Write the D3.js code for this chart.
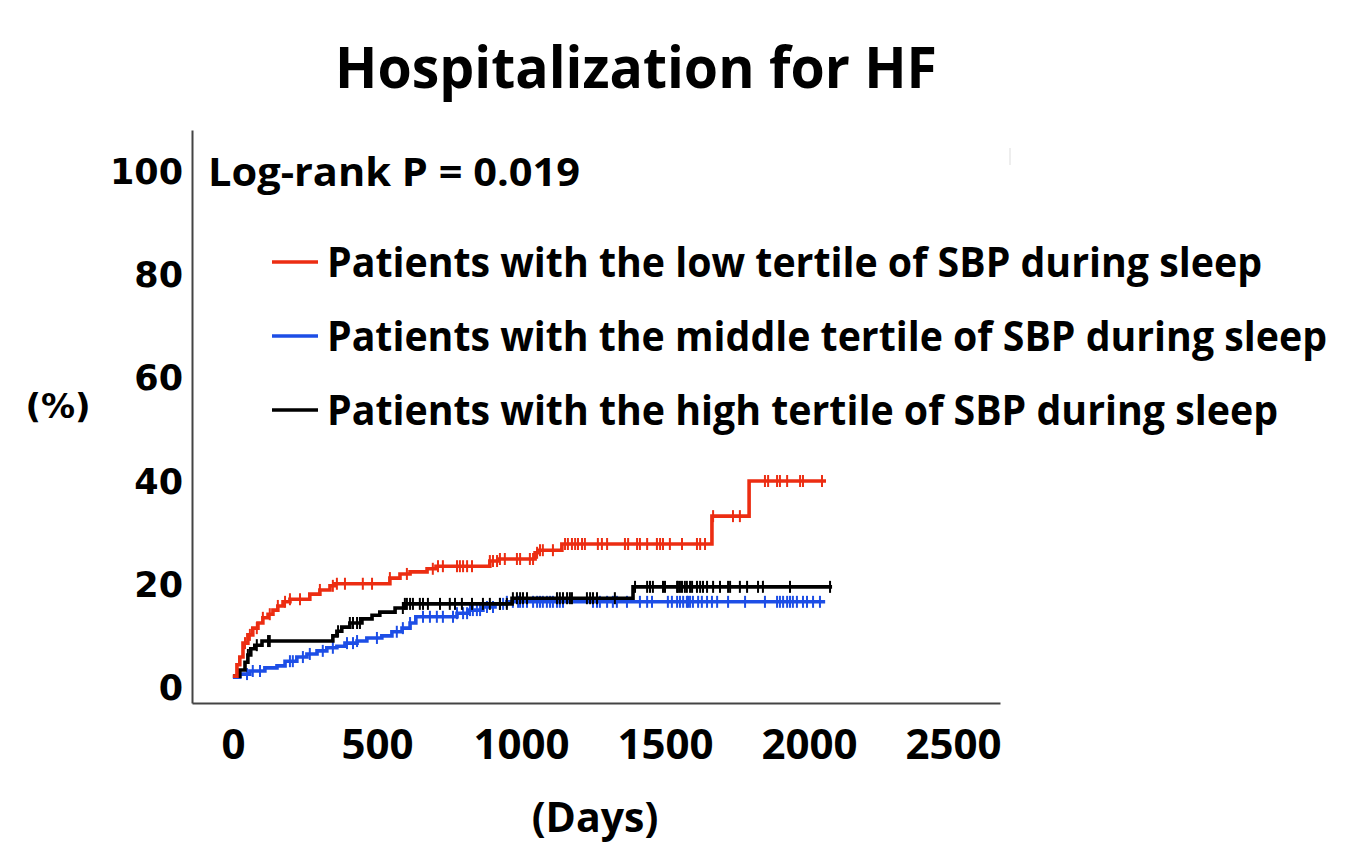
<!DOCTYPE html>
<html>
<head>
<meta charset="utf-8">
<script src="https://cdn.jsdelivr.net/npm/d3@7"></script>
<style>
  body { margin: 0; background: #fff; }
  svg { display: block; }
</style>
</head>
<body>
<svg id="chart" width="1369" height="864"></svg>
<script>
// ---------- DATA ----------
const titleText = "Hospitalization for HF";
const pText = "Log-rank P = 0.019";
const legendLabels = [
  "Patients with the low tertile of SBP during sleep",
  "Patients with the middle tertile of SBP during sleep",
  "Patients with the high tertile of SBP during sleep"
];
const seriesColors = ["#ec2d12", "#1d4ee6", "#000000"];
const xTicks = [0, 500, 1000, 1500, 2000, 2500];
const yTicks = [0, 20, 40, 60, 80, 100];

// Low tertile (red): step times (days) and cumulative incidence (%)
const lowDays = [0, 14, 24, 35, 52, 69, 87, 104, 122, 139, 156, 174, 198, 267, 302, 337, 354, 545, 580, 615, 674, 705, 892, 920, 1049, 1059, 1142, 1663, 1792];
const lowPct  = [2.3, 4.5, 6.0, 8.7, 10.3, 11.6, 12.6, 13.6, 14.3, 15.1, 15.9, 16.7, 17.2, 18.2, 19.0, 19.8, 20.2, 21.3, 22.1, 22.5, 23.1, 23.6, 24.6, 25.0, 26.2, 26.7, 27.9, 33.3, 40.1];
const lowEnd = 2059;
const lowCensor = [42,59,83,104,128,156,181,198,233,302,347,361,389,451,483,545,604,694,712,729,778,788,799,813,830,892,903,917,927,944,986,997,1031,1042,1056,1066,1076,1111,1153,1163,1177,1188,1198,1212,1222,1267,1281,1299,1361,1372,1403,1413,1438,1472,1483,1493,1517,1559,1611,1622,1639,1667,1736,1760,1847,1858,1889,1899,1924,1969,1979,2045];

// Middle tertile (blue)
const midDays = [0, 24, 59, 111, 153, 181, 222, 257, 292, 326, 361, 389, 431, 465, 517, 552, 587, 615, 635, 778, 816, 868, 910, 951];
const midPct  = [2.1, 2.7, 3.3, 3.9, 4.3, 5.2, 6.0, 6.6, 7.2, 7.8, 8.1, 8.7, 9.1, 9.7, 10.1, 10.9, 11.6, 12.6, 13.8, 14.5, 15.1, 15.7, 16.3, 16.7];
const midEnd = 2056;
const midCensor = [49,69,94,198,208,243,267,312,347,396,417,431,500,569,590,615,660,684,708,729,764,778,799,813,823,833,847,858,882,903,927,938,951,972,990,997,1007,1021,1042,1056,1066,1076,1090,1101,1111,1125,1135,1146,1250,1264,1274,1299,1319,1333,1368,1413,1438,1455,1510,1524,1542,1552,1563,1576,1580,1587,1597,1615,1628,1646,1663,1681,1719,1778,1847,1889,1899,1910,1924,1934,1944,1958,1979,1993,2014,2038];

// High tertile (black)
const highDays = [0, 24, 42, 52, 62, 76, 101, 347, 361, 378, 406, 448, 483, 510, 563, 597, 969, 1389];
const highPct  = [2.3, 3.5, 5.0, 6.4, 7.6, 8.3, 9.1, 10.1, 11.0, 11.8, 12.6, 13.4, 14.1, 14.7, 15.5, 16.3, 17.4, 19.6];
const highEnd = 2080;
const highCensor = [52,83,122,128,365,406,417,431,441,590,597,604,615,625,649,660,677,719,753,771,795,830,868,892,927,951,972,986,997,1007,1021,1125,1135,1146,1160,1170,1177,1229,1240,1250,1264,1326,1396,1438,1448,1458,1493,1500,1542,1545,1552,1559,1569,1576,1587,1594,1611,1622,1632,1646,1667,1691,1719,1726,1760,1785,1823,1840,1934,2073];

// ---------- CHART ----------
const svg = d3.select("#chart");

const x = d3.scaleLinear().domain([-142, 2663]).range([192, 1000]);
const y = d3.scaleLinear().domain([-2.9, 108.1]).range([703, 130]);

// Title
svg.append("text")
  .attr("x", 335).attr("y", 88)
  .attr("font-family", "'Open Sans', sans-serif")
  .attr("font-weight", 700).attr("font-size", 57)
  .attr("textLength", 602).attr("lengthAdjust", "spacingAndGlyphs")
  .text(titleText);

// Axes
const yAxis = d3.axisLeft(y).tickValues(yTicks).tickSize(0).tickPadding(9).tickFormat(d3.format("d"));
const gy = svg.append("g").attr("transform", "translate(192,0)").call(yAxis);
gy.select(".domain").attr("stroke", "#444").attr("stroke-width", 2);
gy.selectAll("text")
  .attr("font-family", "'DejaVu Sans', sans-serif")
  .attr("font-weight", 700).attr("font-size", 35)
  .attr("fill", "#000")
  .attr("dy", "0.36em")
  .attr("y", -1);

const xAxis = d3.axisBottom(x).tickValues(xTicks).tickSize(0).tickPadding(26).tickFormat(d3.format("d"));
const gx = svg.append("g").attr("transform", "translate(0,703)").call(xAxis);
gx.select(".domain").attr("stroke", "#444").attr("stroke-width", 2);
gx.selectAll("text")
  .attr("font-family", "'Open Sans', sans-serif")
  .attr("font-weight", 700).attr("font-size", 42)
  .attr("fill", "#000");

// Axis titles
svg.append("text")
  .attr("x", 58).attr("y", 418).attr("text-anchor", "middle")
  .attr("font-family", "'DejaVu Sans', sans-serif")
  .attr("font-weight", 700).attr("font-size", 34)
  .text("(%)");
svg.append("text")
  .attr("x", 595).attr("y", 832).attr("text-anchor", "middle")
  .attr("font-family", "'Open Sans', sans-serif")
  .attr("font-weight", 700).attr("font-size", 41)
  .text("(Days)");

// Log-rank text
svg.append("text")
  .attr("x", 208).attr("y", 186)
  .attr("font-family", "'Open Sans', sans-serif")
  .attr("font-weight", 700).attr("font-size", 40)
  .attr("textLength", 372).attr("lengthAdjust", "spacingAndGlyphs")
  .text(pText);

// faint artifact line top-right
svg.append("line")
  .attr("x1", 1010).attr("x2", 1010).attr("y1", 148).attr("y2", 165)
  .attr("stroke", "#ddd").attr("stroke-width", 1);

// Legend
const legendY = [262, 336, 410];
const legendW = [935, 1000, 951];
legendLabels.forEach((lab, i) => {
  svg.append("line")
    .attr("x1", 272).attr("x2", 318)
    .attr("y1", legendY[i]).attr("y2", legendY[i])
    .attr("stroke", seriesColors[i]).attr("stroke-width", 3.5);
  svg.append("text")
    .attr("x", 327).attr("y", legendY[i] + 15)
    .attr("font-family", "'Open Sans', sans-serif")
    .attr("font-weight", 700).attr("font-size", 42)
    .attr("textLength", legendW[i]).attr("lengthAdjust", "spacingAndGlyphs")
    .text(lab);
});

// Curves
const series = [
  { days: lowDays, pct: lowPct, end: lowEnd, censor: lowCensor, color: seriesColors[0] },
  { days: midDays, pct: midPct, end: midEnd, censor: midCensor, color: seriesColors[1] },
  { days: highDays, pct: highPct, end: highEnd, censor: highCensor, color: seriesColors[2] }
];

const line = d3.line().x(d => x(d[0])).y(d => y(d[1])).curve(d3.curveStepAfter);

function valueAt(s, t) {
  const i = d3.bisectRight(s.days, t) - 1;
  return s.pct[Math.max(0, i)];
}

[series[1], series[2], series[0]].forEach(s => {
  const pts = s.days.map((d, i) => [d, s.pct[i]]);
  pts.push([s.end, s.pct[s.pct.length - 1]]);
  svg.append("path")
    .datum(pts)
    .attr("fill", "none")
    .attr("stroke", s.color)
    .attr("stroke-width", 3.6)
    .attr("d", line);
  svg.append("g").selectAll("line")
    .data(s.censor)
    .join("line")
    .attr("x1", d => x(d)).attr("x2", d => x(d))
    .attr("y1", d => y(valueAt(s, d)) - 6)
    .attr("y2", d => y(valueAt(s, d)) + 6)
    .attr("stroke", s.color)
    .attr("stroke-width", 2);
});
</script>
</body>
</html>
